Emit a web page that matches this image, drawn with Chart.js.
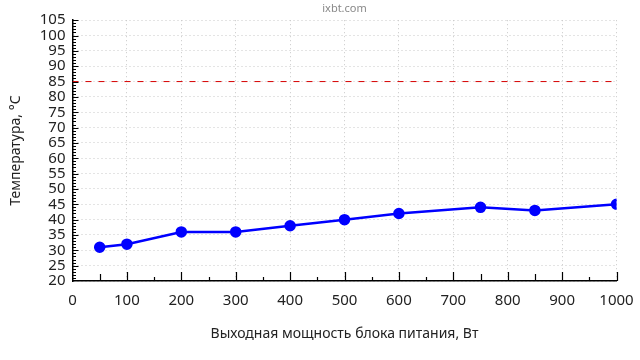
<!DOCTYPE html>
<html>
<head>
<meta charset="utf-8">
<script src="https://cdn.jsdelivr.net/npm/chart.js@4"></script>
<style>
  html, body { margin: 0; padding: 0; background: #fff; }
  #wrap { width: 640px; height: 360px; }
</style>
</head>
<body>
<div id="wrap"><canvas id="chart" width="640" height="360"></canvas></div>
<script>
// данные
const powerW = [50, 100, 200, 300, 400, 500, 600, 750, 850, 1000];
const tempC = [31, 32, 36, 36, 38, 40, 42, 44, 43, 45];
const limitC = 85;
const xMin = 0, xMax = 1000, xStep = 100;
const yMin = 20, yMax = 105, yStep = 5;

const font = 'Noto Sans';

// тики внутри области графика, как в оригинале
const innerTicks = {
  id: 'innerTicks',
  afterDatasetsDraw(chart) {
    const ctx = chart.ctx;
    const xs = chart.scales.x, ys = chart.scales.y;
    const area = chart.chartArea;
    ctx.save();
    ctx.strokeStyle = '#000';
    ctx.lineWidth = 1.2;
    ctx.beginPath();
    for (let v = xMin + 50; v <= xMax; v += 50) {
      const px = Math.round(xs.getPixelForValue(v)) + 0.5;
      let len = 4;
      if (v % 100 === 0) len = 9;
      else if (powerW.includes(v)) len = 7;
      ctx.moveTo(px, area.bottom);
      ctx.lineTo(px, area.bottom - len);
    }
    for (let v = yMin + 1; v <= yMax; v += 1) {
      const py = Math.round(ys.getPixelForValue(v)) + 0.5;
      const len = v % 5 === 0 ? 6 : 3.5;
      ctx.moveTo(area.left, py);
      ctx.lineTo(area.left + len, py);
    }
    ctx.stroke();
    ctx.restore();
  }
};

const points = powerW.map((p, i) => ({ x: p, y: tempC[i] }));

new Chart(document.getElementById('chart'), {
  type: 'line',
  data: {
    datasets: [
      {
        data: points,
        borderColor: '#0000ff',
        backgroundColor: '#0000ff',
        borderWidth: 2.5,
        pointRadius: 4.5,
        pointHoverRadius: 4.5,
        tension: 0
      },
      {
        data: [{ x: xMin, y: limitC }, { x: xMax, y: limitC }],
        borderColor: 'rgb(215,0,0)',
        borderWidth: 1,
        borderDash: [6, 7],
        pointRadius: 0
      }
    ]
  },
  plugins: [innerTicks],
  options: {
    responsive: false,
    animation: false,
    layout: { padding: { left: 0, right: 23.5, top: 0, bottom: 0 } },
    plugins: {
      legend: { display: false },
      tooltip: { enabled: false },
      title: {
        display: true,
        text: 'ixbt.com',
        fullSize: false,
        color: '#888',
        font: { family: font, size: 11, weight: 'normal' },
        padding: { top: 2, bottom: 5 }
      }
    },
    scales: {
      x: {
        type: 'linear',
        min: xMin,
        max: xMax,
        afterFit(scale) {
          scale.height = 79;
          scale.paddingLeft = 0;
          scale.paddingRight = 0;
        },
        ticks: {
          stepSize: xStep,
          autoSkip: false,
          color: '#222',
          padding: 11,
          maxRotation: 0,
          font: { family: font, size: 15 },
          callback: (v) => String(v)
        },
        grid: {
          color: '#c8c8c8',
          drawTicks: false
        },
        border: { color: '#000', width: 1.5, dash: [1, 3] },
        title: {
          display: true,
          text: 'Выходная мощность блока питания, Вт',
          color: '#222',
          font: { family: font, size: 14 },
          padding: { top: 0, bottom: 18 }
        }
      },
      y: {
        min: yMin,
        max: yMax,
        afterFit(scale) {
          scale.width = 72.5;
          scale.paddingTop = 0;
          scale.paddingBottom = 0;
        },
        ticks: {
          stepSize: yStep,
          autoSkip: false,
          color: '#222',
          padding: 7,
          font: { family: font, size: 15 },
          callback: (v) => String(v)
        },
        grid: {
          color: '#c8c8c8',
          drawTicks: false
        },
        border: { color: '#000', width: 1.5, dash: [1, 3] },
        title: {
          display: true,
          text: 'Температура, °C',
          color: '#222',
          font: { family: font, size: 14 },
          padding: { top: 8, bottom: 0 }
        }
      }
    }
  }
});
</script>
</body>
</html>
